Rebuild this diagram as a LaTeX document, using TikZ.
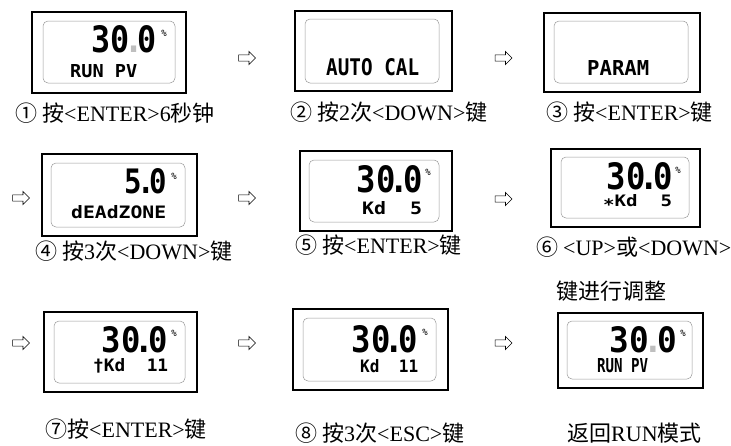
\documentclass[tikz,border=0pt]{standalone}
\usepackage{fontspec}
\usepackage{graphicx}
\setmainfont{Liberation Serif}
\newfontfamily\cjkfont{Noto Sans CJK SC}
\newfontfamily\lcdfont{DejaVu Sans Mono}
\usetikzlibrary{shapes.arrows}
\newcommand{\zh}[1]{{\cjkfont #1}}
\newcommand{\lcdbig}[3]{\resizebox{#1}{#2}{\lcdfont\bfseries #3}}
\newcommand{\lcdsm}[3]{\resizebox{#1}{#2}{\lcdfont\bfseries #3}}
\newcommand{\ldot}{\kern-0.18em.\kern-0.18em}
\newcommand{\gdot}{\kern-0.18em{\color{black!25}.}\kern-0.18em}
\newcommand{\cn}[1]{\zh{#1}\hspace{5pt}}
\begin{document}
\begin{tikzpicture}[x=1pt,y=-1pt,
  outerbox/.style={draw=black, line width=1.6pt, inner sep=0, fill=white},
  innerbox/.style={draw=black!40, line width=0.5pt, rounded corners=5pt, inner sep=0},
  bigdig/.style={anchor=south east, inner sep=0},
  smalltxt/.style={anchor=south west, inner sep=0},
  pct/.style={inner sep=0, font=\lcdfont\fontsize{9}{9}\selectfont},
  captext/.style={anchor=base west, inner sep=0, font=\fontsize{22}{24}\selectfont},
  nextarrow/.style={single arrow, draw=black, line width=0.6pt, fill=white,
    minimum height=17pt, minimum width=13pt, inner sep=2.8pt,
    single arrow head extend=3.5pt, single arrow head indent=0pt}]
\useasboundingbox (0,0) rectangle (731,445);
\fill[white] (0,0) rectangle (731,445);

% ---------- row 1 ----------
\node[outerbox, minimum width=154pt, minimum height=81pt] (b1) at (109,52.5) {};
\node[innerbox, minimum width=132pt, minimum height=62pt] (i1) at (109,52) {};
\node[bigdig] (d1) at (157,53) {\lcdbig{65pt}{27pt}{30\gdot0}};
\node[pct] (p1) at (164,33) {\%};
\node[smalltxt] (t1) at (70,78) {\lcdsm{67pt}{13pt}{RUN PV}};
\node[captext] (c1) at (15,121) {\cn{①}\zh{按}<ENTER>6\zh{秒钟}};

\node[nextarrow] (a1) at (245.5,58) {};

\node[outerbox, minimum width=157pt, minimum height=80pt] (b2) at (373.5,51) {};
\node[innerbox, minimum width=134pt, minimum height=64pt] (i2) at (372,51) {};
\node[smalltxt] (t2) at (326,76) {\lcdsm{93pt}{17pt}{AUTO CAL}};
\node[captext] (c2) at (290,120) {\cn{②}\zh{按}2\zh{次}<DOWN>\zh{键}};

\node[nextarrow] (a2) at (502,58) {};

\node[outerbox, minimum width=156pt, minimum height=79pt] (b3) at (622,52.5) {};
\node[innerbox, minimum width=134pt, minimum height=62pt] (i3) at (621,52) {};
\node[smalltxt] (t3) at (587,76) {\lcdsm{62pt}{15pt}{PARAM}};
\node[captext] (c3) at (546,120) {\cn{③}\zh{按}<ENTER>\zh{键}};

% ---------- row 2 ----------
\node[nextarrow] (a3) at (19.5,198) {};

\node[outerbox, minimum width=155pt, minimum height=82pt] (b4) at (119.5,195) {};
\node[innerbox, minimum width=134pt, minimum height=64pt] (i4) at (118,195) {};
\node[bigdig] (d4) at (167,194) {\lcdbig{42pt}{25pt}{5\ldot0}};
\node[pct] (p4) at (174,176) {\%};
\node[smalltxt] (t4) at (71,219) {\lcdsm{95pt}{13pt}{dEAdZONE}};
\node[captext] (c4) at (35,259) {\cn{④}\zh{按}3\zh{次}<DOWN>\zh{键}};

\node[nextarrow] (a4) at (245.5,198) {};

\node[outerbox, minimum width=152pt, minimum height=80pt] (b5) at (376,191) {};
\node[innerbox, minimum width=130pt, minimum height=62pt] (i5) at (374,191) {};
\node[bigdig] (d5) at (423,193) {\lcdbig{66pt}{27pt}{30\ldot0}};
\node[pct] (p5) at (428,172) {\%};
\node[smalltxt] (t5) at (362,215) {\lcdsm{60pt}{13pt}{Kd\ \ 5}};
\node[captext] (c5) at (295,253) {\cn{⑤}\zh{按}<ENTER>\zh{键}};

\node[nextarrow] (a5) at (502,199) {};

\node[outerbox, minimum width=149pt, minimum height=78pt] (b6) at (625.5,188) {};
\node[innerbox, minimum width=128pt, minimum height=61pt] (i6) at (625,187.5) {};
\node[bigdig] (d6) at (673,190) {\lcdbig{66pt}{27pt}{30\ldot0}};
\node[pct] (p6) at (678,170) {\%};
\node[smalltxt] (t6) at (603,211) {\lcdsm{69pt}{12pt}{\raisebox{-0.25em}{*}Kd\ \ 5}};
\node[captext] (c6) at (536,255) {\cn{⑥}<UP>\zh{或}<DOWN>};
\node[captext] (c6b) at (556,299) {\zh{键进行调整}};

% ---------- row 3 ----------
\node[nextarrow] (a6) at (19.5,343) {};

\node[outerbox, minimum width=153pt, minimum height=80pt] (b7) at (120.5,352) {};
\node[innerbox, minimum width=131pt, minimum height=62pt] (i7) at (119.5,352) {};
\node[bigdig] (d7) at (168,353) {\lcdbig{66pt}{26pt}{30\ldot0}};
\node[pct] (p7) at (174,333) {\%};
\node[smalltxt] (t7) at (93,373) {\lcdsm{75pt}{13pt}{†Kd\ \ 11}};
\node[captext] (c7) at (45,437) {\zh{⑦按}<ENTER>\zh{键}};

\node[nextarrow] (a7) at (245.5,343) {};

\node[outerbox, minimum width=155pt, minimum height=81pt] (b8) at (370.5,349.5) {};
\node[innerbox, minimum width=133pt, minimum height=63pt] (i8) at (369.5,349.5) {};
\node[bigdig] (d8) at (418,353) {\lcdbig{66pt}{27pt}{30\ldot0}};
\node[pct] (p8) at (425,332) {\%};
\node[smalltxt] (t8) at (360,373) {\lcdsm{58pt}{13pt}{Kd\ \ 11}};
\node[captext] (c8) at (295,441) {\cn{⑧}\zh{按}3\zh{次}<ESC>\zh{键}};

\node[nextarrow] (a8) at (502,343) {};

\node[outerbox, minimum width=145pt, minimum height=75pt] (b9) at (630.5,350.5) {};
\node[innerbox, minimum width=125pt, minimum height=58pt] (i9) at (629.5,350) {};
\node[bigdig] (d9) at (677,353) {\lcdbig{67pt}{26pt}{30\gdot0}};
\node[pct] (p9) at (683,333) {\%};
\node[smalltxt] (t9) at (597,373) {\lcdsm{51pt}{14pt}{RUN PV}};
\node[captext] (c9) at (567,441) {\zh{返回}RUN\zh{模式}};
\end{tikzpicture}
\end{document}
